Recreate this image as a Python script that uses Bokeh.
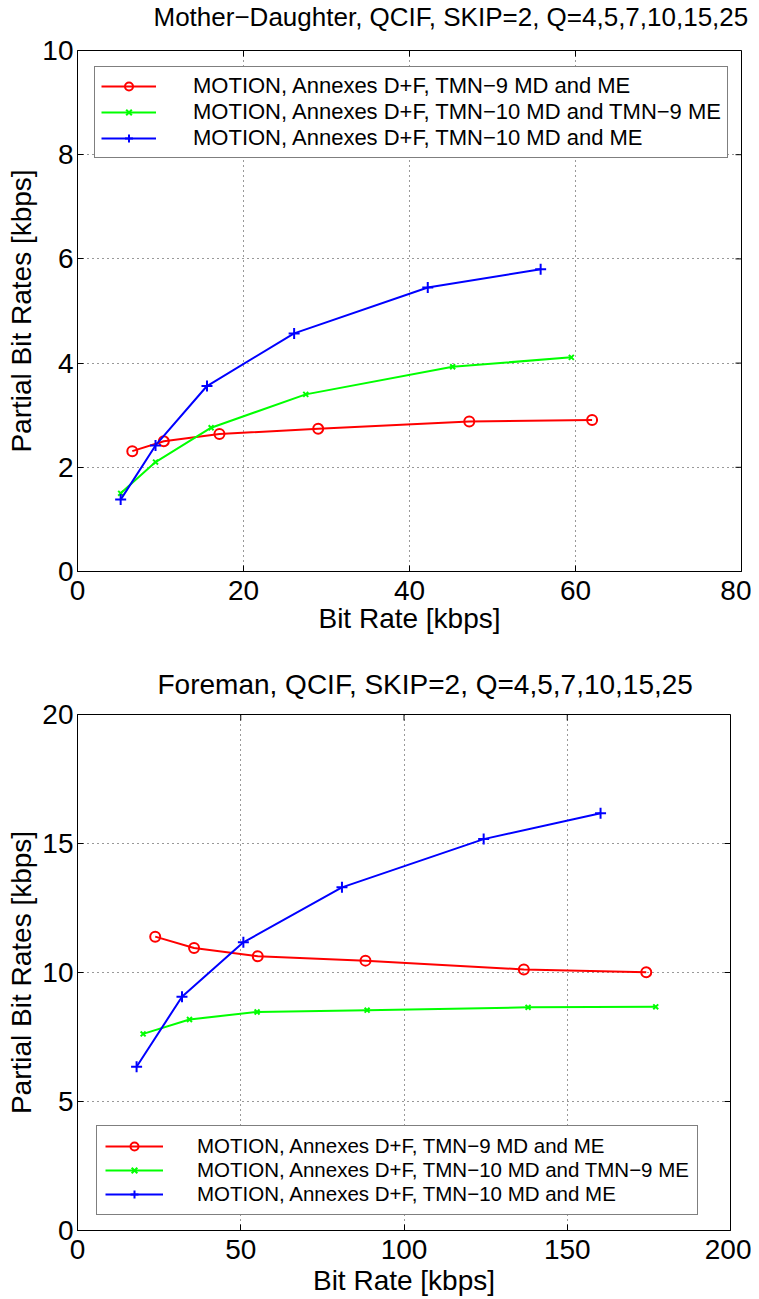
import math
from bokeh.plotting import figure
from bokeh.models import Range1d, FixedTicker, Legend, LegendItem
from bokeh.layouts import column
from bokeh.embed import file_html
from bokeh.resources import INLINE

# ---------------- data ----------------
labels = [
    "MOTION, Annexes D+F, TMN\u22129 MD and ME",
    "MOTION, Annexes D+F, TMN\u221210 MD and TMN\u22129 ME",
    "MOTION, Annexes D+F, TMN\u221210 MD and ME",
]
titles = [
    "Mother\u2212Daughter, QCIF, SKIP=2, Q=4,5,7,10,15,25",
    "Foreman, QCIF, SKIP=2, Q=4,5,7,10,15,25",
]

md_red_x = [6.6, 10.4, 17.1, 29.0, 47.2, 62.0]
md_red_y = [2.31, 2.50, 2.64, 2.74, 2.88, 2.91]
md_green_x = [5.2, 9.4, 16.1, 27.5, 45.2, 59.5]
md_green_y = [1.50, 2.10, 2.76, 3.40, 3.93, 4.11]
md_blue_x = [5.2, 9.4, 15.6, 26.1, 42.2, 55.8]
md_blue_y = [1.38, 2.42, 3.56, 4.57, 5.45, 5.80]

fm_red_x = [23.8, 35.7, 55.2, 88.2, 136.7, 174.2]
fm_red_y = [11.39, 10.95, 10.63, 10.46, 10.12, 10.01]
fm_green_x = [20.1, 34.3, 55.0, 88.7, 138.0, 177.1]
fm_green_y = [7.62, 8.18, 8.47, 8.54, 8.65, 8.67]
fm_blue_x = [18.1, 32.0, 50.8, 81.0, 124.4, 160.2]
fm_blue_y = [6.35, 9.06, 11.17, 13.30, 15.17, 16.17]

md_xticks = [0, 20, 40, 60, 80]
md_yticks = [0, 2, 4, 6, 8, 10]
fm_xticks = [0, 50, 100, 150, 200]
fm_yticks = [0, 5, 10, 15, 20]

FONT = "Liberation Sans"


def style_title(t, size, offset, standoff):
    t.text_font = FONT
    t.text_font_size = size
    t.text_font_style = "normal"
    t.text_color = "black"
    t.align = "left"
    t.offset = offset
    t.standoff = standoff


def style_axis(ax):
    ax.major_tick_in = 6
    ax.major_tick_out = 0
    ax.minor_tick_line_color = None
    ax.axis_line_color = "black"
    ax.major_tick_line_color = "black"
    ax.major_label_text_font = FONT
    ax.major_label_text_font_size = "28px"
    ax.major_label_text_color = "black"
    ax.axis_label_text_font = FONT
    ax.axis_label_text_font_size = "28px"
    ax.axis_label_text_font_style = "normal"
    ax.axis_label_text_color = "black"


def make_plot(xr, yr, xt, yt, fw, fh, mb, series, xlab_standoff, leg_loc, leg_font,
              glyph_w, leg_standoff, leg_padding):
    p = figure(frame_width=fw, frame_height=fh, output_backend="svg", toolbar_location=None,
               x_range=Range1d(*xr), y_range=Range1d(*yr),
               min_border_left=mb[0], min_border_right=mb[1], min_border_top=mb[2],
               min_border_bottom=mb[3], background_fill_color="white",
               border_fill_color="white")
    p.outline_line_color = "black"
    p.outline_line_width = 1
    p.outline_line_alpha = 1

    p.xaxis.ticker = FixedTicker(ticks=xt)
    p.yaxis.ticker = FixedTicker(ticks=yt)
    p.xaxis.axis_label = "Bit Rate [kbps]"
    p.yaxis.axis_label = "Partial Bit Rates [kbps]"
    for ax in p.xaxis + p.yaxis:
        style_axis(ax)
    p.xaxis.major_label_standoff = 9
    p.yaxis.major_label_standoff = 4
    p.xaxis.axis_label_standoff = xlab_standoff
    p.yaxis.axis_label_standoff = 2

    # inward ticks mirrored on the top and right edges (box on)
    p.ray(x=xt, y=[yr[1]] * len(xt), length=6, length_units="screen",
          angle=-math.pi / 2, line_color="black", line_width=1)
    p.ray(x=[xr[1]] * len(yt), y=yt, length=6, length_units="screen",
          angle=math.pi, line_color="black", line_width=1)

    p.xgrid.ticker = FixedTicker(ticks=xt)
    p.ygrid.ticker = FixedTicker(ticks=yt)
    for g in (p.xgrid, p.ygrid):
        g.grid_line_color = "black"
        g.grid_line_dash = "1 4"
        g.grid_line_alpha = 0.8
        g.grid_line_width = 1

    items = []
    for (x, y, color, marker, msize), lab in zip(series, labels):
        r1 = p.line(x, y, line_color=color, line_width=2)
        if marker == "circle":
            r2 = p.scatter(x, y, marker="circle", size=msize, fill_color=None,
                           line_color=color, line_width=2)
        else:
            r2 = p.scatter(x, y, marker=marker, size=msize, line_color=color, line_width=2)
        items.append(LegendItem(label=lab, renderers=[r1, r2]))

    leg = Legend(items=items, location=leg_loc)
    leg.label_text_font = FONT
    leg.label_text_font_size = leg_font
    leg.label_text_color = "black"
    leg.glyph_width = glyph_w
    leg.glyph_height = 20
    leg.label_height = 20
    leg.label_standoff = leg_standoff
    leg.spacing = 0
    leg.padding = leg_padding
    leg.border_line_color = "black"
    leg.border_line_width = 1
    leg.background_fill_alpha = 1
    p.add_layout(leg, "center")
    return p


md_series = [
    (md_red_x, md_red_y, "#ff0000", "circle", 10),
    (md_green_x, md_green_y, "#00ff00", "x", 7),
    (md_blue_x, md_blue_y, "#0000ff", "cross", 11),
]
fm_series = [
    (fm_red_x, fm_red_y, "#ff0000", "circle", 10),
    (fm_green_x, fm_green_y, "#00ff00", "x", 7),
    (fm_blue_x, fm_blue_y, "#0000ff", "cross", 11),
]

# strip holding the first title (the top panel sits right at the page top)
p0 = figure(width=751, height=31, output_backend="svg", toolbar_location=None,
            x_range=Range1d(0, 1), y_range=Range1d(0, 1),
            min_border_left=77, min_border_right=10, min_border_top=0, min_border_bottom=0,
            background_fill_color="white", border_fill_color="white")
p0.title.text = titles[0]
style_title(p0.title, "26px", 76, 0)
p0.outline_line_color = None
p0.xaxis.visible = False
p0.yaxis.visible = False
p0.xgrid.visible = False
p0.ygrid.visible = False

p1 = make_plot((0, 80), (0, 10), md_xticks, md_yticks, 664, 521, (77, 10, 19, 81),
               md_series, 0, (17, 413), "22px", 55, 37, 6)
p2 = make_plot((0, 200), (0, 20), fm_xticks, fm_yticks, 653, 516, (77, 21, 61, 62),
               fm_series, 3, (19, 15), "20.5px", 58, 34, 8)
p2.title.text = titles[1]
style_title(p2.title, "28px", 80, 29)

layout = column(p0, p1, p2, spacing=0)
open("out.html", "w").write(file_html(layout, INLINE))
